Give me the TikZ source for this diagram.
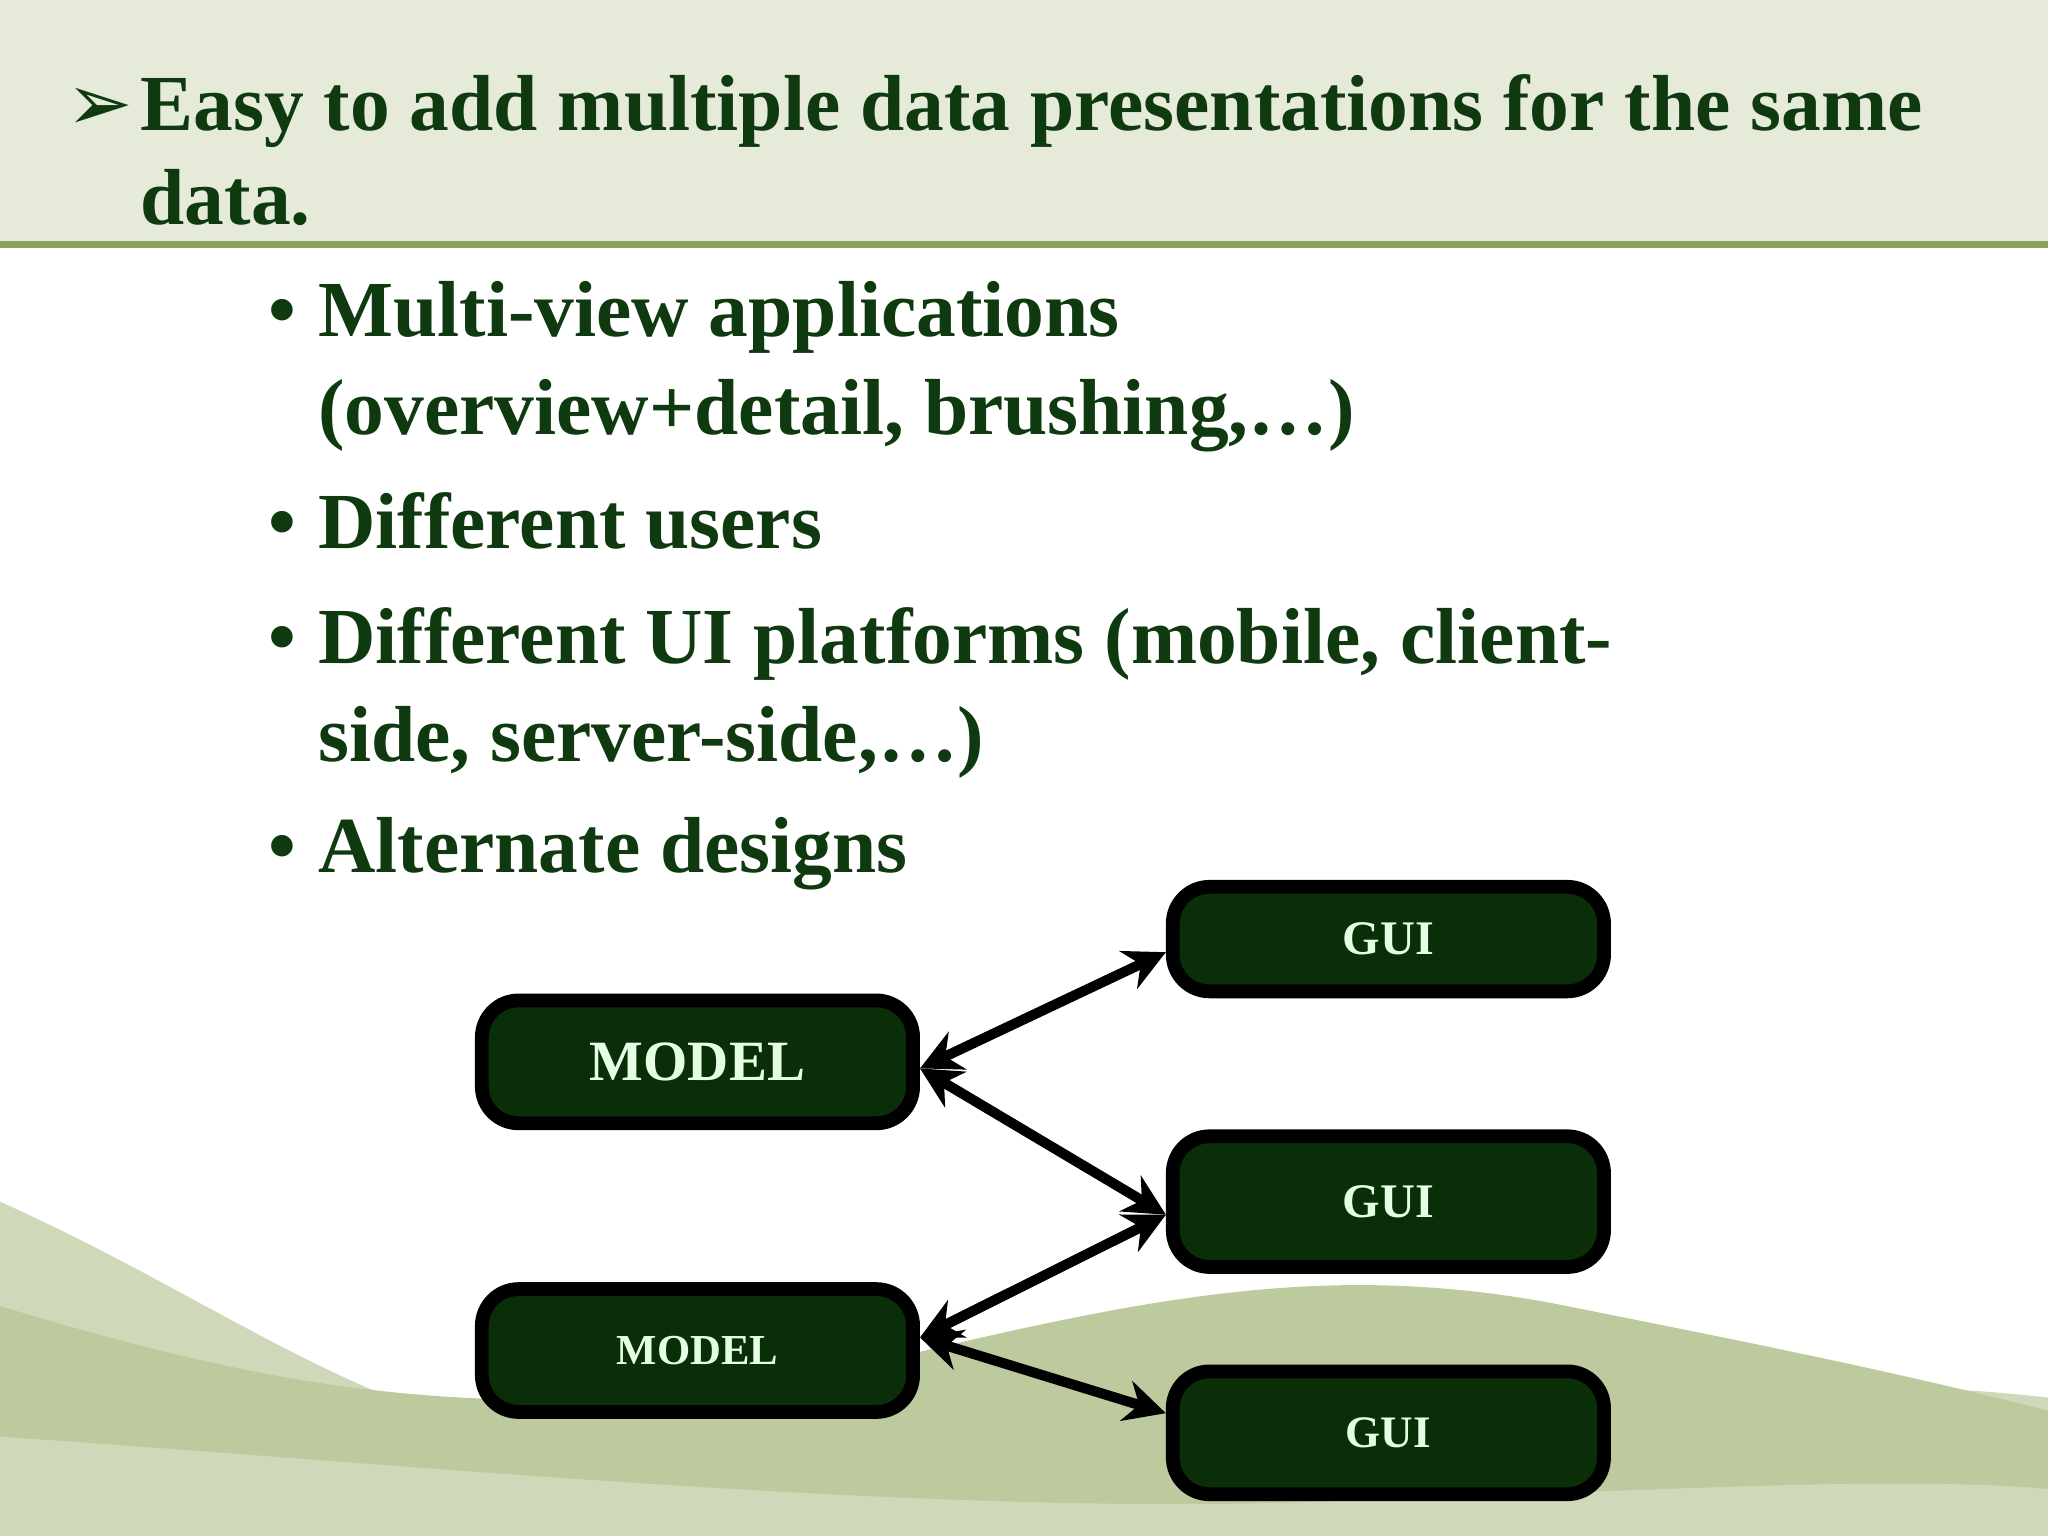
\documentclass[tikz,border=0pt]{standalone}
\usepackage{fontspec}
\setmainfont{Liberation Serif}
\newfontfamily\symfont{DejaVu Sans}
\usetikzlibrary{arrows.meta}
\definecolor{darkleaf}{HTML}{0F3A10}
\definecolor{boxfill}{HTML}{0A2E08}
\definecolor{bandfill}{HTML}{E6EAD8}
\definecolor{bandline}{HTML}{8DA05A}
\definecolor{waveA}{HTML}{CFD9BA}
\definecolor{waveB}{HTML}{BCCA9E}
\begin{document}
\begin{tikzpicture}[x=0.01cm,y=-0.01cm,
	titletext/.style={anchor=base west, inner sep=0pt, text=darkleaf,
		font=\fontsize{17.3}{20}\selectfont\bfseries},
	bullettext/.style={anchor=base west, inner sep=0pt, text=darkleaf,
		font=\fontsize{17.3}{22}\selectfont\bfseries},
	gridbox/.style={rectangle, rounded corners=8pt, line width=3pt,
		draw=black, fill=boxfill, text=white!90!green,
		minimum width=3.3cm, font=\bfseries},
	link/.style={{Stealth[length=9pt,width=9pt]}-{Stealth[length=9pt,width=9pt]},
		line width=2.2pt, black}
	]
\useasboundingbox (0,0) rectangle (1568,1176);
% background
\fill[white] (0,0) rectangle (1568,1176);
\fill[waveA] (0,920) .. controls (200,1010) and (300,1110) .. (520,1115)
	.. controls (900,1120) and (1200,1030) .. (1568,1070) -- (1568,1176) -- (0,1176) -- cycle;
\fill[waveB] (0,1000) .. controls (200,1060) and (350,1090) .. (600,1060)
	.. controls (850,1000) and (1000,960) .. (1200,1000)
	.. controls (1350,1030) and (1450,1050) .. (1568,1080) -- (1568,1176) -- (0,1176) -- cycle;
\fill[waveA] (0,1100) .. controls (300,1120) and (700,1160) .. (1000,1150)
	.. controls (1300,1140) and (1450,1130) .. (1568,1140) -- (1568,1176) -- (0,1176) -- cycle;
% header band
\fill[bandfill] (0,0) rectangle (1568,187);
\draw[bandline, line width=1.5pt] (0,187) -- (1568,187);

% title
\node[titletext] (arrowmark) at (50,100) {\symfont ➢};
\node[titletext] (title1) at (107,100) {Easy to add multiple data presentations for the same};
\node[titletext] (title2) at (107,172) {data.};

% bullets
\foreach \yy/\txt [count=\i] in {258/{Multi-view applications}, 420/{Different users},
	508/{Different UI platforms (mobile, client-}, 668/{Alternate designs}}
	{\node[bullettext] (dot\i) at (205,\yy) {•};
	\node[bullettext] (bul\i) at (243,\yy) {\txt};}
\node[bullettext] (cont1) at (243,333) {(overview+detail, brushing,…)};
\node[bullettext] (cont2) at (243,583) {side, server-side,…)};

% boxes
\node[gridbox, minimum height=0.8cm, font=\fontsize{10.5}{13}\selectfont\bfseries] (gui1) at (1063,719) {GUI};
\node[gridbox, minimum height=0.94cm, font=\fontsize{12.4}{15}\selectfont\bfseries] (model1) at (534,813) {MODEL};
\node[gridbox, minimum height=1.0cm, font=\fontsize{10.5}{13}\selectfont\bfseries] (gui2) at (1063,920) {GUI};
\node[gridbox, minimum height=0.94cm, font=\fontsize{9.3}{12}\selectfont\bfseries] (model2) at (534,1034) {MODEL};
\node[gridbox, minimum height=0.94cm, font=\fontsize{9.8}{12}\selectfont\bfseries] (gui3) at (1063,1097) {GUI};

% links
\draw[link] ([yshift=-0.05cm]model1.east) -- ([yshift=-0.1cm]gui1.west);
\draw[link] ([yshift=-0.05cm]model1.east) -- ([yshift=-0.1cm]gui2.west);
\draw[link] ([yshift=0.1cm]model2.east) -- ([yshift=-0.1cm]gui2.west);
\draw[link] ([yshift=0.1cm]model2.east) -- ([yshift=0.15cm]gui3.west);
\end{tikzpicture}
\end{document}
